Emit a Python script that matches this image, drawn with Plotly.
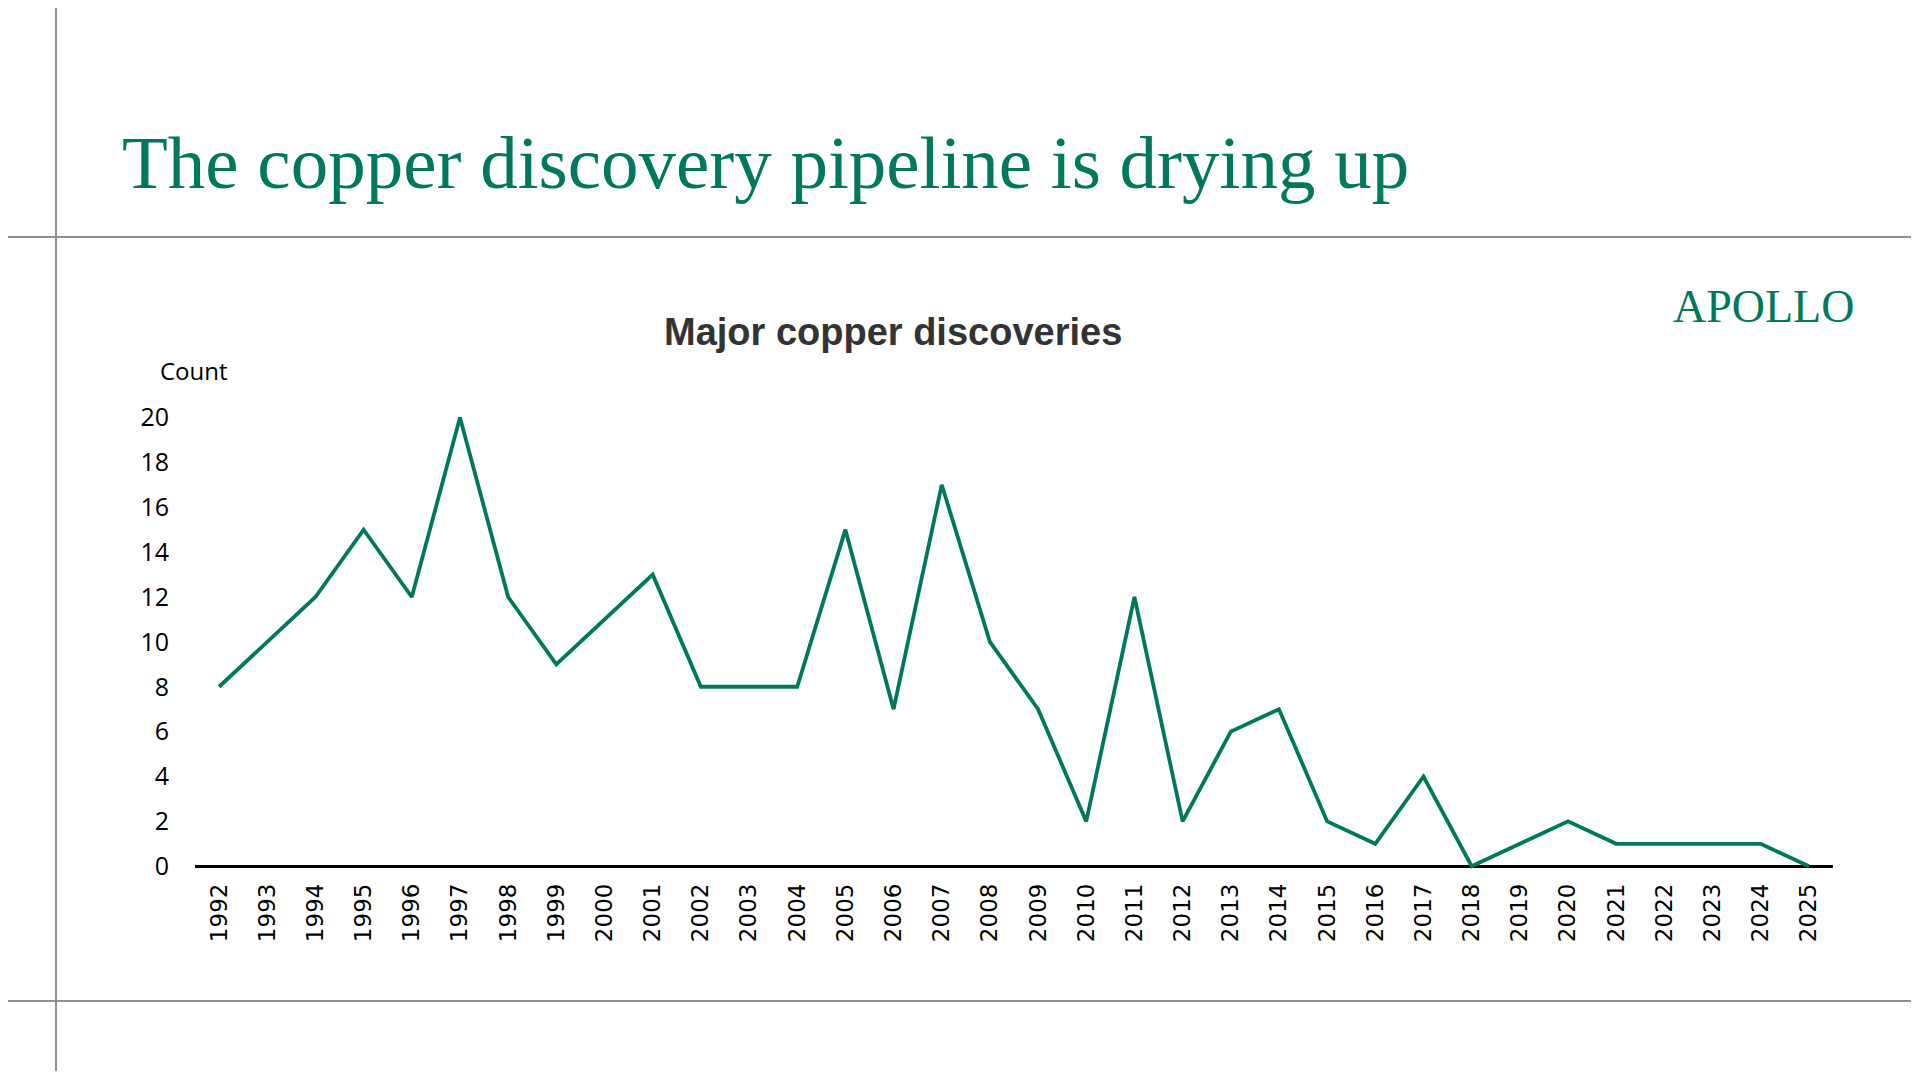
import plotly.graph_objects as go

# major copper discoveries per year
years = [str(y) for y in range(1992, 2026)]
counts = [8, 10, 12, 15, 12, 20, 12, 9, 11, 13,
          8, 8, 8, 15, 7, 17, 10, 7, 2, 12,
          2, 6, 7, 2, 1, 4, 0, 1, 2, 1,
          1, 1, 1, 0]
yticks = [0, 2, 4, 6, 8, 10, 12, 14, 16, 18, 20]

headline = 'The copper discovery pipeline is drying up'
chartTitle = 'Major copper discoveries'
yLabel = 'Count'
logo = 'APOLLO'

green = '#00785B'
grey = '#8f8f8f'

# figure is placed inside the 8px body margin of the page
W, H = 1903, 1063
off = 8
L, R, T, B = 187, 78, 396, 198
plotW = W - L - R
plotH = H - T - B


def px(x):  # screen x -> paper x
    return (x - off - L) / plotW


def py(y):  # screen y -> paper y
    return 1 - (y - off - T) / plotH


fig = go.Figure()
fig.add_trace(go.Scatter(x=years, y=counts, mode='lines',
                         line=dict(color=green, width=3.8), hoverinfo='x+y'))

fig.update_layout(
    width=W, height=H,
    margin=dict(l=L, r=R, t=T, b=B),
    paper_bgcolor='white', plot_bgcolor='white',
    showlegend=False,
    font=dict(family='Open Sans', color='black'),
)
fig.update_xaxes(type='category', range=[-0.5, len(years) - 0.5],
                 showgrid=False, showline=False, zeroline=False, ticks='',
                 tickangle=-90, ticklabelstandoff=5,
                 tickfont=dict(family='DejaVu Sans', size=23, color='black'))
fig.update_yaxes(range=[-0.3, 20.6], tickvals=yticks,
                 showgrid=False, showline=False, ticks='',
                 zeroline=True, zerolinecolor='black', zerolinewidth=2.5,
                 ticklabelstandoff=25,
                 tickfont=dict(family='Open Sans', size=25, color='black'))

# decorative slide frame lines
fig.add_shape(type='line', xref='paper', yref='paper', x0=px(0), x1=px(1919), y0=py(237), y1=py(237),
              line=dict(color=grey, width=2))
fig.add_shape(type='line', xref='paper', yref='paper', x0=px(0), x1=px(1919), y0=py(1001), y1=py(1001),
              line=dict(color=grey, width=2))
fig.add_shape(type='line', xref='paper', yref='paper', x0=px(56), x1=px(56), y0=py(0), y1=py(1079),
              line=dict(color=grey, width=2))

fig.add_annotation(text=headline, xref='paper', yref='paper', x=px(120), y=py(162),
                   xanchor='left', yanchor='middle', showarrow=False,
                   font=dict(family='Liberation Serif', size=75, color=green))
fig.add_annotation(text=logo, xref='paper', yref='paper', x=px(1856), y=py(306),
                   xanchor='right', yanchor='middle', showarrow=False,
                   font=dict(family='Liberation Serif', size=46, color=green))
fig.add_annotation(text='<b>' + chartTitle + '</b>', xref='paper', yref='paper', x=px(893), y=py(332),
                   xanchor='center', yanchor='middle', showarrow=False,
                   font=dict(family='Liberation Sans', size=38, color='#333333'))
fig.add_annotation(text=yLabel, xref='paper', yref='paper', x=px(158), y=py(370),
                   xanchor='left', yanchor='middle', showarrow=False,
                   font=dict(family='Open Sans', size=24, color='black'))

fig.write_html('out.html')
